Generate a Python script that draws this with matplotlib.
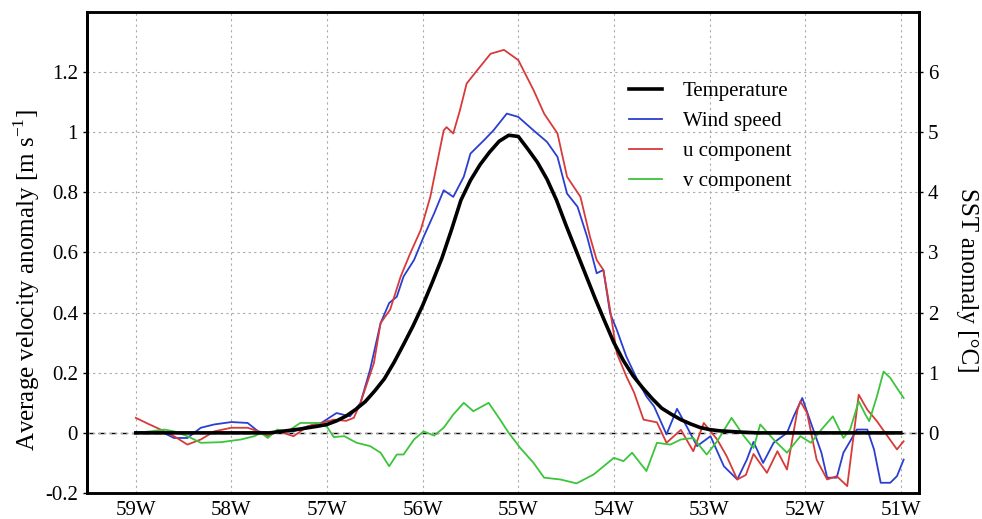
import matplotlib
matplotlib.use("Agg")
import matplotlib.pyplot as plt

plt.rcParams['font.family'] = ['Liberation Serif', 'DejaVu Serif']
plt.rcParams['mathtext.fontset'] = 'custom'
plt.rcParams['mathtext.rm'] = 'Liberation Serif'

# longitudes in degrees West
temp_lon = [59.0, 57.6, 57.5, 57.3, 57.1, 57.0, 56.9, 56.8, 56.7, 56.6, 56.5, 56.4, 56.3, 56.2,
            56.1, 56.0, 55.9, 55.8, 55.7, 55.6, 55.5, 55.4, 55.3, 55.2, 55.1, 55.0, 54.9, 54.8,
            54.7, 54.6, 54.5, 54.4, 54.3, 54.2, 54.1, 54.0, 53.9, 53.8, 53.7, 53.6, 53.5, 53.4,
            53.3, 53.2, 53.1, 53.0, 52.9, 52.8, 52.7, 52.5, 51.0]
temp_c = [0, 0, 0.02, 0.06, 0.11, 0.14, 0.2, 0.28, 0.39, 0.52, 0.7, 0.9, 1.17, 1.47,
          1.78, 2.12, 2.5, 2.9, 3.37, 3.87, 4.2, 4.46, 4.67, 4.85, 4.95, 4.93, 4.72, 4.5,
          4.22, 3.87, 3.45, 3.05, 2.65, 2.25, 1.87, 1.5, 1.2, 0.95, 0.75, 0.57, 0.41, 0.31,
          0.22, 0.15, 0.09, 0.055, 0.035, 0.025, 0.015, 0.0, 0.0]

wind_lon = [59.0, 58.87, 58.74, 58.6, 58.46, 58.32, 58.18, 58.0, 57.83, 57.72, 57.62, 57.48,
            57.35, 57.2, 57.06, 56.93, 56.9, 56.76, 56.65, 56.55, 56.44, 56.35, 56.27, 56.2,
            56.09, 55.99, 55.88, 55.78, 55.68, 55.57, 55.5, 55.36, 55.26, 55.12, 55.0, 54.84,
            54.7, 54.59, 54.49, 54.38, 54.28, 54.18, 54.11, 54.04, 53.97, 53.87, 53.76, 53.66,
            53.58, 53.45, 53.34, 53.24, 53.13, 52.99, 52.85, 52.71, 52.61, 52.54, 52.44, 52.33,
            52.19, 52.12, 52.03, 51.94, 51.83, 51.77, 51.67, 51.6, 51.53, 51.46, 51.35, 51.28,
            51.21, 51.11, 51.04, 50.97]
wind = [0.0, 0.0, 0.005, -0.017, -0.017, 0.017, 0.028, 0.036, 0.033, 0.005, 0.0, 0.005,
        0.005, 0.022, 0.033, 0.06, 0.066, 0.055, 0.10, 0.21, 0.365, 0.432, 0.453, 0.52,
        0.575, 0.652, 0.73, 0.807, 0.785, 0.852, 0.929, 0.973, 1.006, 1.062, 1.051, 1.006,
        0.968, 0.918, 0.796, 0.752, 0.652, 0.531, 0.542, 0.398, 0.343, 0.254, 0.18, 0.121,
        0.088, -0.005, 0.08, 0.022, -0.044, -0.011, -0.111, -0.155, -0.089, -0.03, -0.1, -0.033,
        0.0, 0.055, 0.116, 0.033, -0.066, -0.149, -0.149, -0.066, -0.028, 0.011, 0.011, -0.055,
        -0.166, -0.166, -0.144, -0.089]

u_lon = [59.0, 58.87, 58.74, 58.6, 58.46, 58.32, 58.18, 58.0, 57.83, 57.72, 57.62, 57.51,
         57.35, 57.2, 57.06, 56.93, 56.8, 56.72, 56.65, 56.58, 56.51, 56.44, 56.34, 56.23,
         56.13, 56.02, 55.92, 55.85, 55.78, 55.75, 55.68, 55.61, 55.54, 55.43, 55.29, 55.15,
         55.0, 54.84, 54.73, 54.59, 54.49, 54.35, 54.25, 54.18, 54.11, 54.04, 53.97, 53.87,
         53.79, 53.69, 53.55, 53.45, 53.3, 53.17, 53.06, 52.92, 52.82, 52.71, 52.62, 52.54,
         52.4, 52.29, 52.19, 52.08, 52.05, 51.98, 51.88, 51.77, 51.67, 51.56, 51.49, 51.44,
         51.35, 51.25, 51.15, 51.04, 50.97]
u_comp = [0.05, 0.03, 0.011, -0.011, -0.039, -0.022, 0.005, 0.017, 0.017, 0.005, -0.011, 0.005,
          -0.011, 0.022, 0.033, 0.044, 0.04, 0.05, 0.10, 0.166, 0.232, 0.365, 0.41, 0.52,
          0.597, 0.675, 0.785, 0.896, 1.006, 1.017, 0.996, 1.073, 1.162, 1.206, 1.261, 1.274,
          1.24, 1.14, 1.062, 0.996, 0.852, 0.785, 0.652, 0.575, 0.542, 0.41, 0.265, 0.188,
          0.135, 0.044, 0.035, -0.033, 0.01, -0.061, 0.033, -0.022, -0.078, -0.155, -0.14, -0.07,
          -0.133, -0.061, -0.122, 0.077, 0.105, 0.066, -0.089, -0.155, -0.144, -0.177, 0.0, 0.127,
          0.077, 0.039, -0.006, -0.055, -0.028]

v_lon = [59.0, 58.85, 58.7, 58.6, 58.46, 58.32, 58.11, 57.9, 57.76, 57.69, 57.62, 57.52,
         57.41, 57.28, 57.1, 57.0, 56.93, 56.82, 56.69, 56.55, 56.44, 56.35, 56.27, 56.2,
         56.09, 55.99, 55.88, 55.78, 55.68, 55.57, 55.47, 55.31, 55.19, 55.1, 54.98, 54.84,
         54.73, 54.56, 54.39, 54.21, 54.0, 53.9, 53.81, 53.66, 53.55, 53.41, 53.3, 53.17,
         53.03, 52.92, 52.77, 52.64, 52.54, 52.47, 52.33, 52.19, 52.05, 51.94, 51.83, 51.71,
         51.6, 51.53, 51.44, 51.37, 51.33, 51.25, 51.18, 51.11, 51.04, 50.97]
v_comp = [0.0, 0.005, 0.011, 0.005, -0.011, -0.033, -0.031, -0.022, -0.011, 0.0, -0.017, 0.011,
          0.005, 0.033, 0.033, 0.02, -0.014, -0.011, -0.033, -0.044, -0.066, -0.111, -0.072, -0.072,
          -0.022, 0.005, -0.009, 0.017, 0.061, 0.1, 0.072, 0.1, 0.044, 0.0, -0.05, -0.1,
          -0.149, -0.155, -0.168, -0.138, -0.083, -0.094, -0.066, -0.127, -0.033, -0.039, -0.022, -0.017,
          -0.072, -0.028, 0.05, -0.011, -0.05, 0.028, -0.022, -0.066, -0.011, -0.033, 0.011, 0.055,
          -0.017, 0.011, 0.105, 0.061, 0.039, 0.121, 0.204, 0.183, 0.149, 0.116]

xtick_lon = [59, 58, 57, 56, 55, 54, 53, 52, 51]
xtick_labels = ['59W', '58W', '57W', '56W', '55W', '54W', '53W', '52W', '51W']
left_ticks = [-0.2, 0, 0.2, 0.4, 0.6, 0.8, 1.0, 1.2]
left_labels = ['-0.2', '0', '0.2', '0.4', '0.6', '0.8', '1', '1.2']
right_ticks = [0, 1, 2, 3, 4, 5, 6]


def west(lons):
    return [-l for l in lons]


fig = plt.figure(figsize=(9.82, 5.19), dpi=100)
ax = fig.add_axes([0.0886, 0.0501, 0.8472, 0.9268])
ax2 = ax.twinx()

ax.set_xlim(-59.51, -50.81)
ax.set_ylim(-0.2, 1.4)
ax2.set_ylim(-1.0, 7.0)

ax.grid(True, color='#aaaaaa', linestyle=(0, (2, 3)), linewidth=0.8)
ax.axhline(0, color='black', linestyle=(0, (5, 3)), linewidth=1.0, zorder=1)

lw_w, = ax.plot(west(wind_lon), wind, color='#2a3fd0', lw=1.3, label='Wind speed')
lu, = ax.plot(west(u_lon), u_comp, color='#d83a3a', lw=1.3, label='u component')
lv, = ax.plot(west(v_lon), v_comp, color='#3cc43c', lw=1.3, label='v component')
lt, = ax2.plot(west(temp_lon), temp_c, color='black', lw=2.6, label='Temperature')

ax.set_xticks(west(xtick_lon))
ax.set_xticklabels(xtick_labels)
ax.set_yticks(left_ticks)
ax.set_yticklabels(left_labels)
ax2.set_yticks(right_ticks)

ax.tick_params(axis='both', labelsize=15, length=3, width=1)
ax.tick_params(axis='x', length=0, pad=6)
ax2.tick_params(axis='y', labelsize=15, length=3, width=1)

ax.set_ylabel('Average velocity anomaly [m s$^{-1}$]', fontsize=18, va='center')
ax.yaxis.set_label_coords(-0.072, 0.443)
ax2.set_ylabel('SST anomaly [\u00b0C]', fontsize=18, rotation=270, va='center')
ax2.yaxis.set_label_coords(1.058, 0.443)

for a in (ax, ax2):
    for side in ('left', 'right'):
        a.spines[side].set_linewidth(2)
        a.spines[side].set_color('black')
    for side in ('top', 'bottom'):
        a.spines[side].set_linewidth(1.8)
        a.spines[side].set_linestyle((0, (3, 1)))

ax2.legend(handles=[lt, lw_w, lu, lv], loc='upper left', bbox_to_anchor=(0.621, 0.879),
           bbox_transform=fig.transFigure, frameon=False, fontsize=15,
           handlelength=1.6, handletextpad=1.0, labelspacing=0.5)

fig.savefig('out.png', dpi=100)
